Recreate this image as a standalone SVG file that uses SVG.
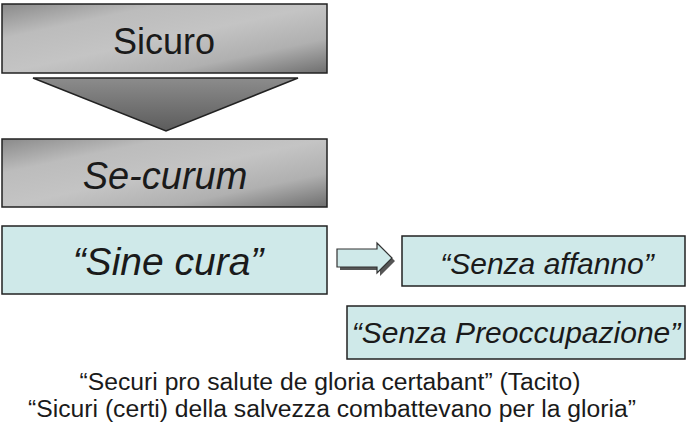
<svg xmlns="http://www.w3.org/2000/svg" width="688" height="425" viewBox="0 0 688 425">
<defs>
<linearGradient id="g" x1="0" y1="0" x2="1" y2="1">
<stop offset="0" stop-color="#8a8a8a"/><stop offset="0.25" stop-color="#bcbcbc"/><stop offset="0.5" stop-color="#c4c4c4"/><stop offset="0.75" stop-color="#b0b0b0"/><stop offset="1" stop-color="#6e6e6e"/>
</linearGradient>
<linearGradient id="t" x1="0" y1="0" x2="0" y2="1">
<stop offset="0" stop-color="#8c8c8c"/><stop offset="1" stop-color="#5c5c5c"/>
</linearGradient>
<style>
.gb{fill:url(#g);stroke:#222;stroke-width:1.5}
.cb{fill:#cfe9e9;stroke:#222;stroke-width:1.5}
text{font-family:"Liberation Sans",Arial,sans-serif;fill:#1a1a1a;text-anchor:middle}
.i{font-style:italic}
</style>
</defs>
<g id="sicuro"><rect class="gb" x="2" y="4" width="325" height="69"/><text x="164" y="54" font-size="36">Sicuro</text></g>
<g id="connectors">
<polygon points="33,78 298,78 166,131" fill="url(#t)" stroke="#222" stroke-width="1.5"/>
<polygon points="340,252 380,252 380,246 395,261 380,276 380,270 340,270" fill="#555"/>
<polygon points="337,249 377,249 377,243 392,258 377,273 377,267 337,267" fill="#cfe9e9" stroke="#333" stroke-width="1.2"/>
</g>
<g id="securum"><rect class="gb" x="2" y="139" width="325" height="68"/><text class="i" x="165" y="189" font-size="38">Se-curum</text></g>
<g id="sinecura"><rect class="cb" x="2" y="226" width="325" height="68"/><text class="i" x="168" y="275" font-size="39">“Sine cura”</text></g>
<g id="affanno"><rect class="cb" x="402" y="236" width="283" height="50"/><text class="i" x="547" y="274" font-size="30">“Senza affanno”</text></g>
<g id="preocc"><rect class="cb" x="347" y="306" width="338" height="53"/><text class="i" x="516" y="343" font-size="30">“Senza Preoccupazione”</text></g>
<g id="quote">
<text x="330" y="390" font-size="24.7">“Securi pro salute de gloria certabant” (Tacito)</text>
<text x="332" y="417" font-size="24.7">“Sicuri (certi) della salvezza combattevano per la gloria”</text>
</g>
</svg>
